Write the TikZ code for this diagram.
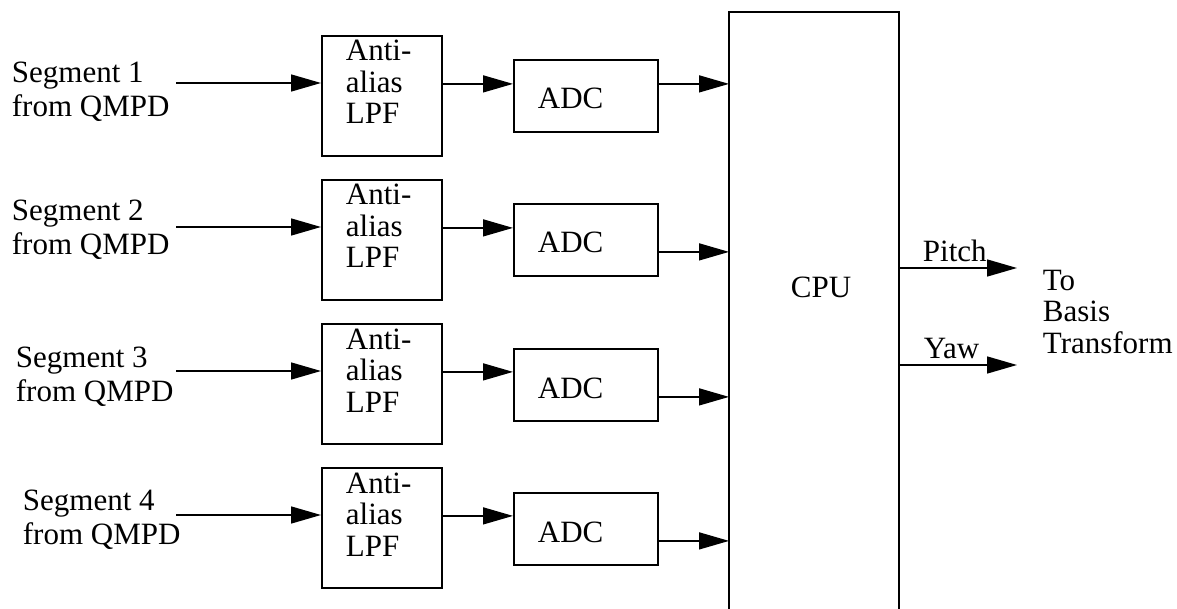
\documentclass[tikz,border=0pt]{standalone}
\usepackage{fontspec}
\setmainfont{Liberation Serif}
\usetikzlibrary{arrows.meta,calc}
\begin{document}
\begin{tikzpicture}[x=1pt,y=-1pt,
  line width=1.8pt,
  arr/.style={-{Triangle[length=30pt,width=17pt]}, line width=1.5pt},
  box/.style={draw, rectangle, inner sep=0pt, anchor=north west},
  lpfbox/.style={box, minimum width=120pt, minimum height=120pt},
  adcbox/.style={box, minimum width=144pt, minimum height=72pt},
  txt/.style={inner sep=0pt, anchor=base west, align=left, font=\fontsize{31}{31.5}\selectfont},
  segtxt/.style={txt, font=\fontsize{31}{34}\selectfont}]
\useasboundingbox (0,0) rectangle (1177,609);
% CPU
\node[rectangle, inner sep=0pt, anchor=north west, minimum width=168pt, minimum height=600pt] (cpu) at (729,12) {};
\draw (cpu.south west) -- (cpu.north west) -- (cpu.north east) -- (cpu.south east);
\node[txt] (cput) at (790,298) {CPU};
% rows (text nodes anchored at the baseline of their last line)
\foreach \i/\lt/\at/\sx/\sy/\os in {1/35/59/11/117/12, 2/179/203/11/255/-12, 3/323/348/15/401/-12, 4/467/492/22/544/-12} {
  \node[lpfbox] (lpf\i) at (321,\lt) {};
  \node[txt] (lpft\i) at (345,\lt+89) {Anti-\\alias\\LPF};
  \node[adcbox] (adc\i) at (513,\at) {};
  \node[txt] (adct\i) at (537,\at+50) {ADC};
  \node[segtxt] (seg\i) at (\sx,\sy) {Segment \i\\from QMPD};
  \coordinate (in\i) at (176,\lt+48);
  \draw[arr] (in\i) -- (in\i -| lpf\i.west);
  \coordinate (m\i) at ([yshift=12pt]lpf\i.east);
  \draw[arr] (m\i) -- (m\i -| adc\i.west);
  \coordinate (o\i) at ([yshift=\os pt]adc\i.east);
  \draw[arr] (o\i) -- (o\i -| cpu.west);
}
% outputs
\coordinate (pe) at (1017,268);
\coordinate (ye) at (1017,365);
\draw[arr] (pe -| cpu.east) -- (pe);
\draw[arr] (ye -| cpu.east) -- (ye);
\node[txt] (pitch) at (922,262) {Pitch};
\node[txt] (yaw) at (923,358) {Yaw};
\node[txt] (dest) at (1042,353) {To\\Basis\\Transform};
\end{tikzpicture}
\end{document}
